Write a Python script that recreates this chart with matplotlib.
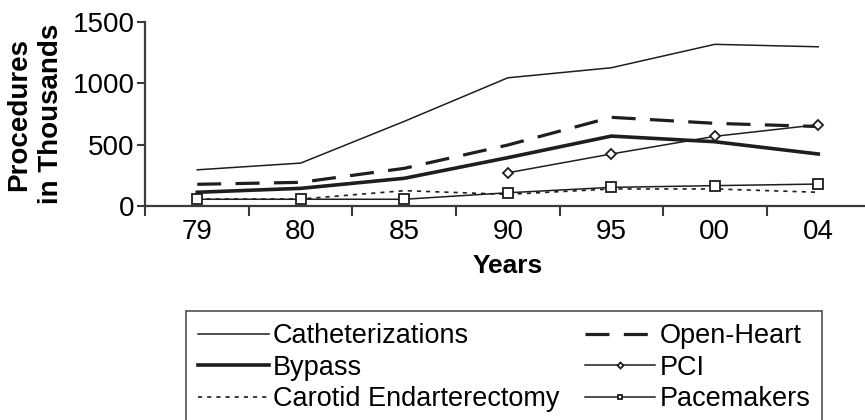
import matplotlib.pyplot as plt

plt.rcParams['font.family'] = ['Liberation Sans', 'DejaVu Sans']

years = ['79', '80', '85', '90', '95', '00', '04']

catheterizations = [295, 350, 690, 1045, 1127, 1318, 1298]
open_heart = [177, 193, 307, 497, 723, 674, 648]
bypass = [112, 144, 226, 394, 570, 524, 424]
pci = [None, None, None, 271, 424, 568, 663]
carotid = [57, 57, 125, 95, 139, 139, 112]
pacemakers = [55, 55, 55, 108, 152, 166, 179]

ink = '#1e1e1e'
x = list(range(len(years)))

fig = plt.figure(figsize=(8.65, 4.2), dpi=100)
ax = fig.add_axes([0.1682, 0.5095, 0.8376, 0.4381])

ax.plot(x, catheterizations, color=ink, lw=1.1, label='Catheterizations')
ax.plot(x, open_heart, color=ink, lw=2.3, linestyle=(0, (7.5, 4.5)), label='Open-Heart')
ax.plot(x, bypass, color=ink, lw=2.6, label='Bypass')
xp = [i for i, v in enumerate(pci) if v is not None]
ax.plot(xp, [pci[i] for i in xp], color=ink, lw=1.1, marker='D', markersize=5.5,
        markerfacecolor='white', markeredgewidth=1.3, label='PCI')
ax.plot(x, carotid, color=ink, lw=1.2, linestyle=(0, (2.5, 3)), label='Carotid Endarterectomy')
ax.plot(x, pacemakers, color=ink, lw=1.1, marker='s', markersize=6.5,
        markerfacecolor='white', markeredgewidth=1.3, label='Pacemakers')

ax.set_xlim(-0.5, 6.5)
ax.set_ylim(0, 1500)
ax.set_yticks([0, 500, 1000, 1500])
ax.set_xticks(x)
ax.set_xticklabels(years)
ax.set_xticks([i + 0.5 for i in range(-1, 7)], minor=True)
ax.tick_params(axis='x', which='major', length=0, pad=9, labelsize=20)
ax.tick_params(axis='x', which='minor', length=7, width=1.5, color='#3a3a3a', direction='out')
ax.tick_params(axis='y', length=6, width=1.5, color='#3a3a3a', labelsize=20, pad=2)

for side in ['top', 'right']:
    ax.spines[side].set_visible(False)
for side in ['left', 'bottom']:
    ax.spines[side].set_linewidth(1.6)
    ax.spines[side].set_color('#3a3a3a')

ax.set_xlabel('Years', fontsize=19, fontweight='bold', labelpad=7)
ax.set_ylabel('Procedures\nin Thousands', fontsize=20, fontweight='bold',
              labelpad=6, linespacing=1.3)

# legend order: two columns, filled column-wise
handles, labels = ax.get_legend_handles_labels()
order = ['Catheterizations', 'Bypass', 'Carotid Endarterectomy',
         'Open-Heart', 'PCI', 'Pacemakers']
h = [handles[labels.index(n)] for n in order]
leg = fig.legend(h, order, loc='upper left', bbox_to_anchor=(186 / 865, (420 - 311) / 420),
                 ncol=2, fontsize=19.5, frameon=True, fancybox=False, edgecolor='#222222',
                 handlelength=2.6, handletextpad=0.15, columnspacing=0.95,
                 labelspacing=0.2, borderpad=0.45, borderaxespad=0, markerscale=0.55)
leg.get_frame().set_linewidth(1.2)

fig.savefig('out.png', dpi=100)
